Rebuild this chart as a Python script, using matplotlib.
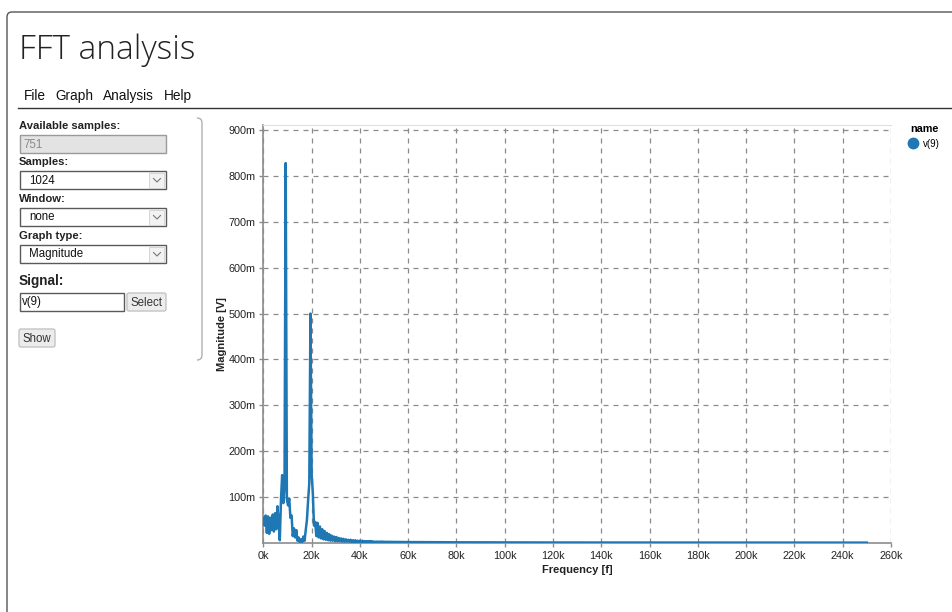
import matplotlib
matplotlib.use('Agg')
import matplotlib.pyplot as plt
import numpy as np
from matplotlib.patches import FancyBboxPatch, Rectangle
from matplotlib.path import Path
from matplotlib.patches import PathPatch
from matplotlib.lines import Line2D
from matplotlib.ticker import FuncFormatter

# spectrum of v(9): 1024-point FFT, fs = 500 kHz
bin_hz = 500e3 / 1024
mag_low_mv = [55, 38, 60, 22, 58, 20, 55, 28, 62, 25,
              65, 30, 80, 45, 6, 95, 148, 87, 120, 828,
              95, 82, 97, 55, 60, 15, 32, 12, 28, 5,
              12, 2, 8, 2, 14, 5, 28, 50, 92, 130,
              500, 150, 110, 38, 46, 15, 44, 12, 36, 10,
              30, 8, 26, 7, 22, 6, 19, 5, 16, 5,
              14, 4, 13, 4, 11, 4, 10, 3, 9, 3,
              8, 3, 7, 3, 7, 2, 6, 2, 6, 2,
              5, 2, 5, 2, 5, 2, 4, 2, 4, 2,
              4, 2, 4, 2, 3, 2, 3, 2, 3, 2, 3]
tail_freq_hz = [50e3, 60e3, 70e3, 80e3, 100e3, 120e3, 150e3, 200e3, 250e3]
tail_mag_mv = [2.5, 2.0, 1.8, 1.5, 1.3, 1.1, 1.0, 0.9, 0.8]

x_ticks = np.arange(0, 260001, 20000)
y_ticks = [0.1, 0.2, 0.3, 0.4, 0.5, 0.6, 0.7, 0.8, 0.9]

freq = np.concatenate([np.arange(len(mag_low_mv)) * bin_hz, tail_freq_hz])
mag = np.concatenate([mag_low_mv, tail_mag_mv]) / 1000.0

W, H = 953, 612
fig = plt.figure(figsize=(W / 100, H / 100), dpi=100)

# page / form drawn in pixel coordinates
ui = fig.add_axes([0, 0, 1, 1], zorder=0)
ui.set_xlim(0, W)
ui.set_ylim(H, 0)
ui.axis('off')

ui.add_patch(FancyBboxPatch((7, 12), 1000, 700, boxstyle='round,pad=0,rounding_size=5',
                            fc='white', ec='#555555', lw=1))
ui.text(19, 50, 'FFT analysis', fontsize=24, family='Open Sans', fontweight='light',
        color='#222222', va='center', ha='left')
for word, xw in [('File', 24), ('Graph', 55), ('Analysis', 103), ('Help', 164)]:
    ui.text(xw, 96, word, fontsize=9.8, family='Liberation Sans', color='#111111',
            va='center', ha='left')
ui.plot([18, W], [107.5, 107.5], color='#333333', lw=1)

# side panel edge
verts = [(197, 118), (202, 118), (202, 123), (202, 355), (202, 360), (197, 360)]
codes = [Path.MOVETO, Path.CURVE3, Path.CURVE3, Path.LINETO, Path.CURVE3, Path.CURVE3]
ui.add_patch(PathPatch(Path(verts, codes), fc='none', ec='#b0b0b0', lw=1))

lab = dict(family='Liberation Sans', fontweight='bold', fontsize=8.1, color='#222222',
           va='center', ha='left')
ui.text(19, 126, 'Available samples:', **lab)
ui.text(19, 162, 'Samples:', **lab)
ui.text(19, 199, 'Window:', **lab)
ui.text(19, 236, 'Graph type:', **lab)
ui.text(19, 281, 'Signal:', **dict(lab, fontsize=9.8))

ui.add_patch(Rectangle((20, 135), 146, 18, fc='#e3e3e3', ec='#9a9a9a', lw=1))
ui.text(23, 144.5, '751', fontsize=8.3, family='Liberation Sans', color='#8a8a8a',
        va='center', ha='left')

for top, value in [(171, '1024'), (208, 'none'), (245, 'Magnitude')]:
    ui.add_patch(Rectangle((20, top), 146, 18, fc='white', ec='#5a5a5a', lw=1))
    ui.add_patch(Rectangle((149, top + 1.5), 15.5, 15, fc='#f2f2f2', ec='#d0d0d0', lw=0.6))
    ui.plot([153.5, 157, 160.5], [top + 7.5, top + 11, top + 7.5], color='#777777', lw=0.8)
    ui.text(29, top + 9.5, value, fontsize=8.3, family='Liberation Sans', color='#111111',
            va='center', ha='left')

ui.add_patch(Rectangle((20, 293), 104, 18, fc='white', ec='#5a5a5a', lw=1))
ui.text(22, 302.5, 'v(9)', fontsize=8.3, family='Liberation Sans', color='#111111',
        va='center', ha='left')
ui.add_patch(FancyBboxPatch((127, 293), 39, 18, boxstyle='round,pad=0,rounding_size=2',
                            fc='#ececec', ec='#c4c4c4', lw=1))
ui.text(146.5, 302.5, 'Select', fontsize=8.3, family='Liberation Sans', color='#333333',
        va='center', ha='center')
ui.add_patch(FancyBboxPatch((19, 329), 36, 18, boxstyle='round,pad=0,rounding_size=2',
                            fc='#ececec', ec='#c4c4c4', lw=1))
ui.text(37, 338.5, 'Show', fontsize=8.3, family='Liberation Sans', color='#333333',
        va='center', ha='center')

# spectrum chart
ax = fig.add_axes([263.3 / W, 1 - 543 / H, (891 - 263.3) / W, (543 - 125) / H], zorder=1)
ax.patch.set_alpha(0)
ax.plot(freq, mag, color='#1f77b4', lw=1.8, label='v(9)', zorder=3)

ax.set_xlim(0, 260000)
ax.set_ylim(0, 0.911)
ax.set_xticks(x_ticks)
ax.set_yticks(y_ticks)
ax.xaxis.set_major_formatter(FuncFormatter(lambda v, p: f'{int(round(v / 1000))}k'))
ax.yaxis.set_major_formatter(FuncFormatter(lambda v, p: f'{int(round(v * 1000))}m'))
ax.grid(True, linestyle=(0, (4, 4)), color='#8a8a8a', lw=0.9)
ax.set_axisbelow(True)

for side in ['left', 'bottom']:
    ax.spines[side].set_color('#8c8c8c')
    ax.spines[side].set_linewidth(1.2)
ax.spines['top'].set_color('#e0e0e0')
ax.spines['right'].set_visible(False)
ax.tick_params(length=3, width=1, color='#8c8c8c', labelsize=7.8, pad=2.5,
               labelcolor='#222222')
for t in ax.get_xticklabels() + ax.get_yticklabels():
    t.set_family('Liberation Sans')

ax.set_xlabel('Frequency [f]', fontsize=8, fontweight='bold', family='Liberation Sans',
              color='#222222', labelpad=3)
ax.set_ylabel('Magnitude [V]', fontsize=8, fontweight='bold', family='Liberation Sans',
              color='#222222', labelpad=1)

handle = Line2D([], [], marker='o', linestyle='none', color='#1f77b4', markersize=7.5)
leg = ax.legend([handle], ['v(9)'], title='name', loc='upper left',
                bbox_to_anchor=(906 / W, 1 - 120 / H), bbox_transform=fig.transFigure,
                frameon=False, alignment='left', handlelength=0.7, handletextpad=0.6,
                borderaxespad=0, prop={'family': 'Liberation Sans', 'size': 7},
                title_fontproperties={'family': 'Liberation Sans', 'weight': 'bold',
                                      'size': 7.8})

fig.savefig('out.png', dpi=100)
